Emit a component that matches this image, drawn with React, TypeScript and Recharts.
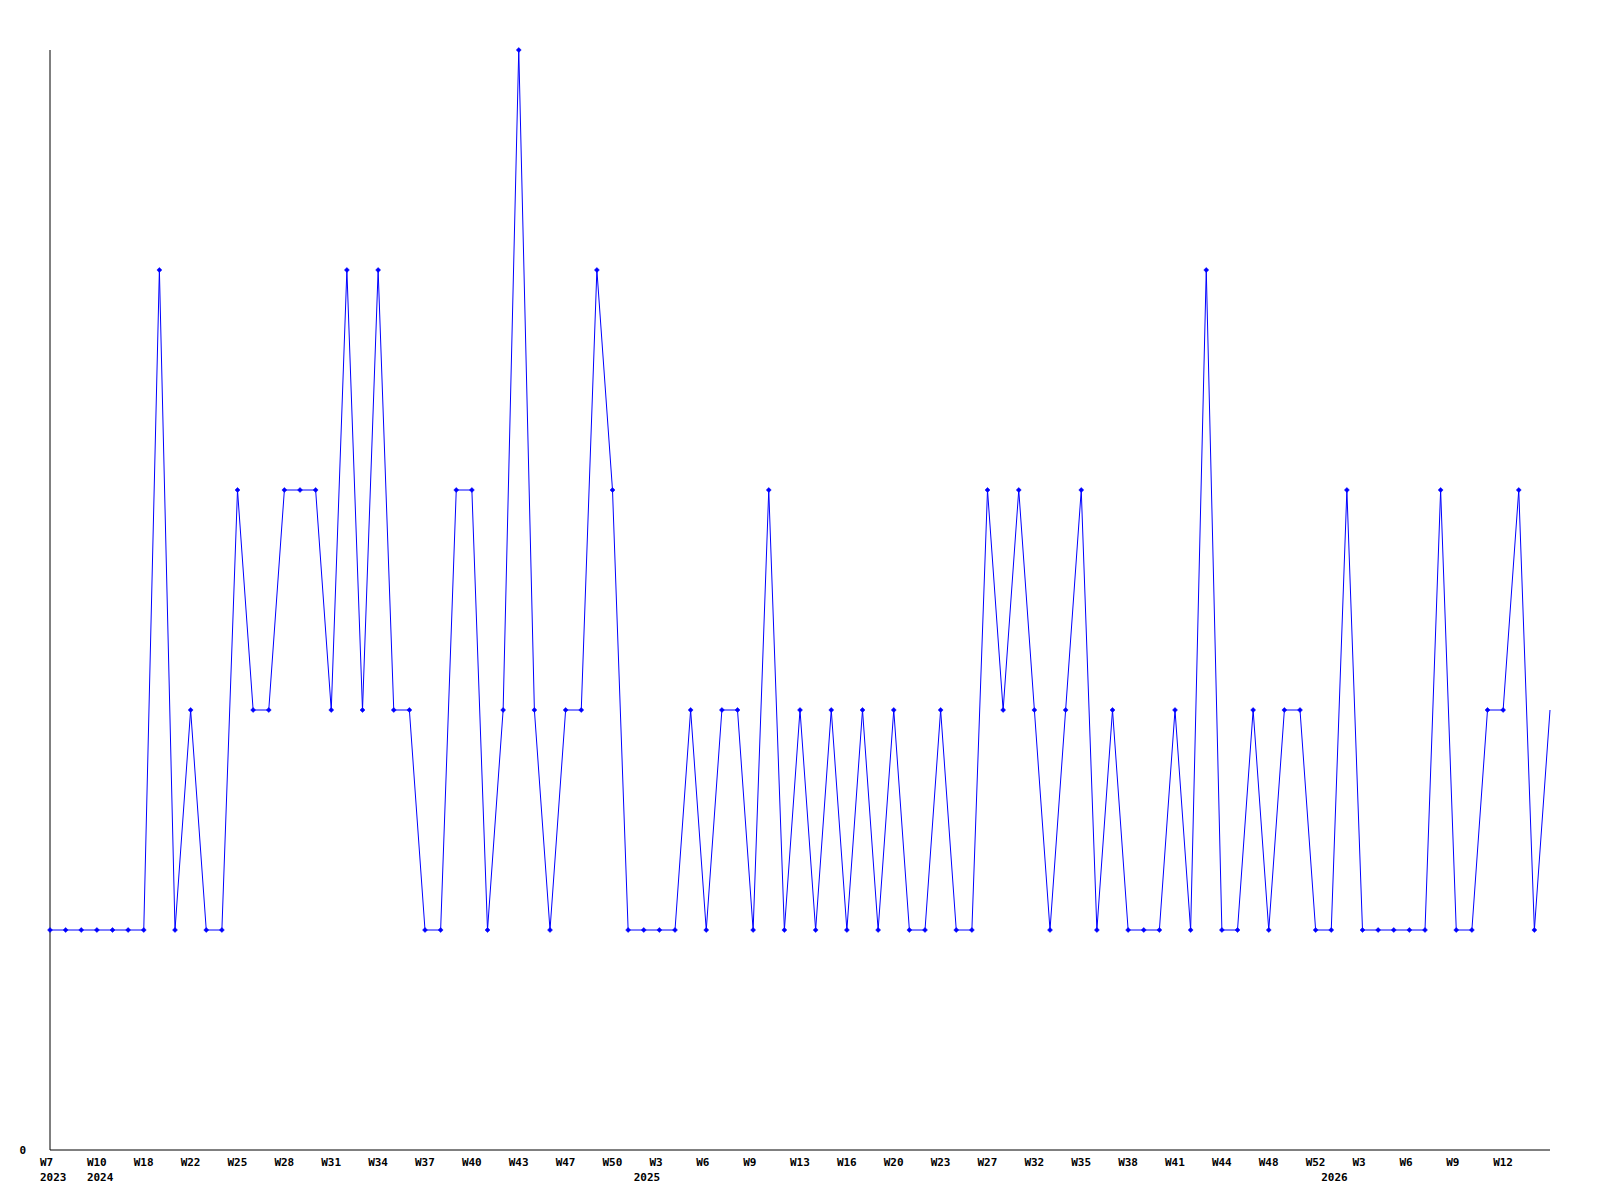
import { Line, LineChart, XAxis, YAxis } from "recharts"

// one entry per plotted week (ISO year / week number)
const years = [
  2023, 2023, 2023, 2024, 2024, 2024, 2024, 2024, 2024, 2024,
  2024, 2024, 2024, 2024, 2024, 2024, 2024, 2024, 2024, 2024,
  2024, 2024, 2024, 2024, 2024, 2024, 2024, 2024, 2024, 2024,
  2024, 2024, 2024, 2024, 2024, 2024, 2024, 2024, 2025, 2025,
  2025, 2025, 2025, 2025, 2025, 2025, 2025, 2025, 2025, 2025,
  2025, 2025, 2025, 2025, 2025, 2025, 2025, 2025, 2025, 2025,
  2025, 2025, 2025, 2025, 2025, 2025, 2025, 2025, 2025, 2025,
  2025, 2025, 2025, 2025, 2025, 2025, 2025, 2025, 2025, 2025,
  2025, 2025, 2026, 2026, 2026, 2026, 2026, 2026, 2026, 2026,
  2026, 2026, 2026, 2026, 2026, 2026, 2026,
]

const weeks = [
  7, 30, 45, 10, 12, 15, 18, 20, 21, 22,
  23, 24, 25, 26, 27, 28, 29, 30, 31, 32,
  33, 34, 35, 36, 37, 38, 39, 40, 41, 42,
  43, 44, 46, 47, 48, 49, 50, 52, 1, 3,
  4, 5, 6, 7, 8, 9, 10, 12, 13, 14,
  15, 16, 17, 19, 20, 21, 22, 23, 24, 26,
  27, 29, 31, 32, 33, 34, 35, 36, 37, 38,
  39, 40, 41, 42, 43, 44, 45, 47, 48, 49,
  51, 52, 1, 2, 3, 4, 5, 6, 7, 8,
  9, 10, 11, 12, 13, 14, 15,
]

const counts = [
  1, 1, 1, 1, 1, 1, 1, 4, 1, 2,
  1, 1, 3, 2, 2, 3, 3, 3, 2, 4,
  2, 4, 2, 2, 1, 1, 3, 3, 1, 2,
  5, 2, 1, 2, 2, 4, 3, 1, 1, 1,
  1, 2, 1, 2, 2, 1, 3, 1, 2, 1,
  2, 1, 2, 1, 2, 1, 1, 2, 1, 1,
  3, 2, 3, 2, 1, 2, 3, 1, 2, 1,
  1, 1, 2, 1, 4, 1, 1, 2, 1, 2,
  2, 1, 1, 3, 1, 1, 1, 1, 1, 3,
  1, 1, 2, 2, 3, 1, 2,
]

const yTicks = [0]

const labels = weeks.map((w, i) => `${years[i]}-W${w}`)
const data = labels.map((label, i) => ({ label, value: counts[i] }))

const FONT = "'DejaVu Sans Mono', 'Liberation Mono', monospace"

// week label on every third point, year under the first point of each year
function WeekTick(props: any) {
  const { x, y, payload } = props
  const i = labels.indexOf(payload.value)
  const showWeek = i % 3 === 0 && i < labels.length - 1
  const showYear = i === 0 || years[i] !== years[i - 1]
  if (!showWeek && !showYear) return <g />
  return (
    <g>
      {showWeek && (
        <text x={x - 10} y={y + 16} textAnchor="start" fontFamily={FONT} fontSize={11} fontWeight="bold" fill="#000">
          {`W${weeks[i]}`}
        </text>
      )}
      {showYear && (
        <text x={x - 10} y={y + 31} textAnchor="start" fontFamily={FONT} fontSize={11} fontWeight="bold" fill="#000">
          {years[i]}
        </text>
      )}
    </g>
  )
}

function Marker(props: any) {
  const { cx, cy, index } = props
  if (index === counts.length - 1) return <g key={index} />
  return (
    <path
      key={index}
      d={`M${cx - 2.5},${cy} L${cx},${cy - 2.5} L${cx + 2.5},${cy} L${cx},${cy + 2.5} Z`}
      fill="#0000ff"
      stroke="#0000ff"
      strokeWidth={0.5}
    />
  )
}

export default function App() {
  return (
    <div style={{ position: "absolute", left: 0, top: 0, width: 1600, height: 1200, background: "#fff" }}>
      <LineChart width={1600} height={1200} data={data} margin={{ top: 50, right: 50, left: 0, bottom: 10 }}>
        <XAxis
          dataKey="label"
          scale="point"
          padding={{ left: 0, right: 0 }}
          interval={0}
          height={40}
          tickLine={false}
          tickSize={0}
          tickMargin={0}
          axisLine={{ stroke: "#000", strokeWidth: 1 }}
          tick={<WeekTick />}
        />
        <YAxis
          width={50}
          domain={[0, 5]}
          ticks={yTicks}
          tickLine={false}
          tickSize={0}
          tickMargin={24}
          axisLine={{ stroke: "#000", strokeWidth: 1 }}
          tick={{ fill: "#000", fontSize: 11, fontWeight: "bold", fontFamily: FONT }}
        />
        <Line
          type="linear"
          dataKey="value"
          stroke="#0000ff"
          strokeWidth={1}
          dot={<Marker />}
          activeDot={false}
          isAnimationActive={false}
        />
      </LineChart>
    </div>
  )
}
